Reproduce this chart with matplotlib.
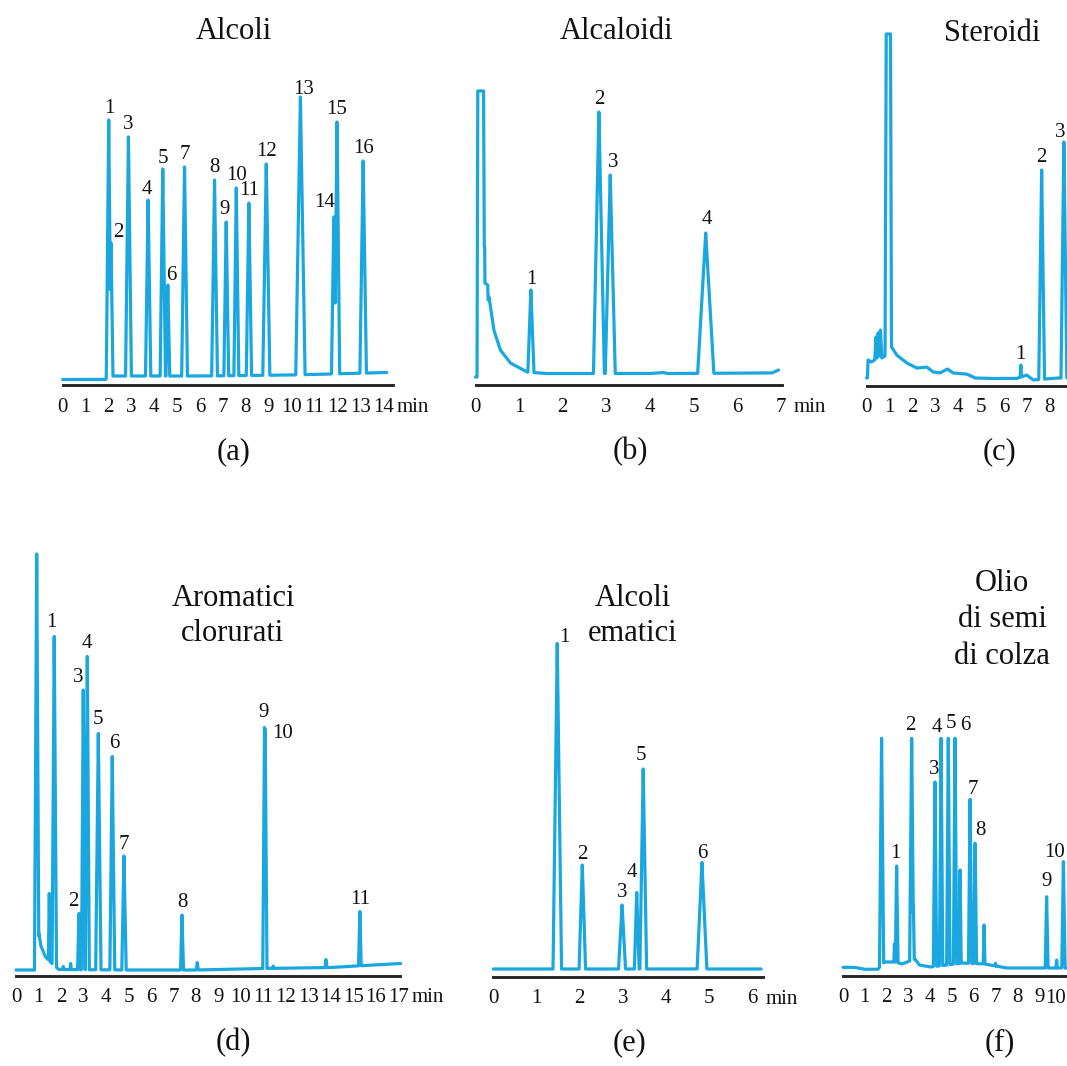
import numpy as np
import matplotlib
matplotlib.use("Agg")
import matplotlib.pyplot as plt

plt.rcParams['font.family'] = ['Liberation Serif', 'DejaVu Serif']

TRACE = '#1aa7e0'
AXIS = '#262626'
INK = '#111111'
W, H = 1067, 1066
DPI = 100

# ---------------- (a) Alcoli ----------------
a_bg_t = [0, 1.85, 2.2, 6.0, 10.0, 14.15]
a_bg_y = [5.5, 5.5, 9, 9, 10, 12.5]
a_peak_t = [2.01, 2.11, 2.87, 3.73, 4.37, 4.59, 5.32, 6.63, 7.14, 7.58, 8.13, 8.89, 10.38, 11.84, 11.98, 13.12]
a_peak_h = [265, 142, 248, 185, 216, 100, 218, 205, 163, 197, 182, 221, 288, 168, 263, 224]
a_peak_w = [0.11, 0.09, 0.13, 0.12, 0.12, 0.09, 0.13, 0.13, 0.11, 0.11, 0.12, 0.16, 0.21, 0.11, 0.12, 0.15]
a_labels = ['1', '2', '3', '4', '5', '6', '7', '8', '9', '10', '11', '12', '13', '14', '15', '16']

# ---------------- (b) Alcaloidi ----------------
b_bg_t = [0, 0.035, 0.05, 0.185, 0.2, 0.21, 0.215, 0.28, 0.29, 0.31, 0.42, 0.57, 0.8, 1.18, 1.6, 4.0, 4.3, 4.4, 6.8, 6.95]
b_bg_y = [8, 8, 294, 294, 138, 138, 102, 100, 85, 88, 55, 35, 22, 13, 11.5, 11.5, 12.5, 11.5, 12, 15]
b_peak_t = [1.27, 2.83, 3.09, 5.28]
b_peak_h = [95, 273, 210, 152]
b_peak_w = [0.08, 0.13, 0.12, 0.20]
b_labels = ['1', '2', '3', '4']

# ---------------- (c) Steroidi ----------------
c_bg_t = [0, 0.03, 0.06, 0.2, 0.35, 0.41, 0.45, 0.5, 0.55, 0.6, 0.66, 0.8, 0.85, 1.04, 1.08,
          1.31, 1.75, 2.18, 2.62, 2.9, 3.2, 3.52, 3.78, 4.36, 4.73, 5.4, 6.55, 6.98, 7.27, 8.3, 10.0]
c_bg_y = [8, 8, 26, 24, 26, 49, 28, 53, 30, 56, 28, 30, 352, 352, 39,
          31, 23, 18, 19, 14, 13, 17, 13, 12, 8, 7.5, 7.5, 11, 6, 8, 8]
c_peak_t = [6.73, 7.64, 8.61]
c_peak_h = [21, 216, 244]
c_peak_w = [0.05, 0.13, 0.13]
c_labels = ['1', '2', '3']

# ---------------- (d) Aromatici clorurati ----------------
d_bg_t = [0, 0.9, 1.02, 1.1, 1.3, 1.6, 1.9, 5.0, 8.0, 11.0, 14.0, 15.5, 17.1]
d_bg_y = [5.5, 5.5, 42, 30, 19, 12, 6, 5.5, 5.5, 7, 8, 10, 12]
d_peak_t = [0.92, 1.48, 1.70, 2.10, 2.43, 2.80, 2.99, 3.17, 3.66, 4.28, 4.80, 7.38, 8.06,
            11.05, 11.08, 11.44, 13.78, 15.29]
d_peak_h = [421.5, 82, 339, 9, 12, 62, 285.5, 319, 242, 219, 119.5, 60.5, 13,
            248, 246, 9.5, 16, 64]
d_peak_w = [0.10, 0.05, 0.10, 0.05, 0.05, 0.07, 0.08, 0.09, 0.12, 0.11, 0.10, 0.07, 0.07,
            0.08, 0.08, 0.10, 0.08, 0.07]
d_labels = ['', '', '1', '', '', '2', '3', '4', '5', '6', '7', '8', '',
            '9', '10', '', '', '11']

# ---------------- (e) Alcoli ematici ----------------
e_bg_t = [0, 6.2]
e_bg_y = [7.5, 7.5]
e_peak_t = [1.48, 2.06, 2.98, 3.32, 3.47, 4.83]
e_peak_h = [333, 111.5, 71.5, 84, 207.5, 114]
e_peak_w = [0.10, 0.08, 0.09, 0.06, 0.08, 0.12]
e_labels = ['1', '2', '3', '4', '5', '6']

# ---------------- (f) Olio di semi di colza ----------------
f_bg_t = [0, 0.5, 1.0, 1.6, 1.9, 2.4, 2.7, 3.3, 3.5, 4.0, 5.5, 6.5, 7.5, 9.0, 12.0]
f_bg_y = [8.7, 8.7, 6.7, 6.7, 14, 14, 12, 17, 11, 9, 13, 12, 8, 8, 8]
f_peak_t = [1.77, 2.36, 2.46, 3.15, 3.23, 4.22, 4.50, 4.83, 5.14, 5.37, 5.83, 6.06, 6.47,
            7.0, 9.34, 9.8, 10.11]
f_peak_h = [237.7, 32, 110, 237.7, 71, 194, 237.7, 237.7, 237.7, 106, 176.7, 132.7, 51,
            12.7, 79.3, 16, 114.3]
f_peak_w = [0.10, 0.05, 0.07, 0.10, 0.05, 0.08, 0.08, 0.08, 0.08, 0.06, 0.08, 0.07, 0.05,
            0.07, 0.07, 0.06, 0.08]
f_labels = ['', '', '1', '2', '', '3', '4', '5', '6', '', '7', '8', '',
            '', '9', '', '10']

fig = plt.figure(figsize=(W / DPI, H / DPI), dpi=DPI)
fig.patch.set_facecolor('white')


def trace(bg_t, bg_y, pk_t, pk_h, pk_w):
    t_end = bg_t[-1]
    grid = [np.linspace(0, t_end, 6000), np.asarray(bg_t, float)]
    for tp, w in zip(pk_t, pk_w):
        grid.append(np.array([tp - w, tp, tp + w]))
    t = np.unique(np.clip(np.concatenate(grid), 0, t_end))
    y = np.interp(t, bg_t, bg_y)
    for tp, h, w in zip(pk_t, pk_h, pk_w):
        tri = h * np.clip(1 - np.abs(t - tp) / w, 0, None)
        y = np.maximum(y, tri)
    return t, y


def panel(x0, axis_y, top_y, ppm, tmax, ticks, data, offsets, min_label=True,
          edge_tick=None):
    bg_t, bg_y, pk_t, pk_h, pk_w, labels = data
    width = ppm * tmax
    height = axis_y - top_y
    ax = fig.add_axes([x0 / W, 1 - axis_y / H, width / W, height / H])
    ax.set_xlim(0, tmax)
    ax.set_ylim(0, height)
    ax.patch.set_alpha(0)
    for side in ('top', 'left', 'right'):
        ax.spines[side].set_visible(False)
    ax.spines['bottom'].set_linewidth(2.1)
    ax.spines['bottom'].set_color(AXIS)
    ax.set_yticks([])
    ax.set_xticks(ticks, [str(v) for v in ticks])
    ax.tick_params(axis='x', length=0, pad=9, labelsize=15, colors=INK)

    t, y = trace(bg_t, bg_y, pk_t, pk_h, pk_w)
    ax.plot(t, y, color=TRACE, lw=2.3, solid_joinstyle='round',
            solid_capstyle='round', clip_on=False)

    for tp, h, lab in zip(pk_t, pk_h, labels):
        if not lab:
            continue
        dx, dy = offsets.get(lab, (0, 15))
        ax.annotate(lab, xy=(tp, h), xytext=(dx, dy - 7), textcoords='offset pixels',
                    ha='center', va='baseline', fontsize=15, color=INK,
                    annotation_clip=False)
    if min_label:
        ax.annotate('min', xy=(ticks[-1], 0), xytext=(13, -27), textcoords='offset pixels',
                    ha='left', va='baseline', fontsize=15, color=INK,
                    annotation_clip=False)
    if edge_tick is not None:
        # last tick at the right border, nudged so it stays inside the figure
        ax.annotate(str(edge_tick), xy=(edge_tick, 0), xytext=(-5, -27),
                    textcoords='offset pixels', ha='center', va='baseline',
                    fontsize=15, color=INK, annotation_clip=False)
    return ax


def ftext(x, y, s, size=22):
    fig.text(x / W, 1 - y / H, s, ha='center', va='baseline', fontsize=size, color=INK)


# top row
panel(62.7, 385, 20, 22.9, 14.42, list(range(15)),
      (a_bg_t, a_bg_y, a_peak_t, a_peak_h, a_peak_w, a_labels),
      {'1': (0.5, 14), '2': (7, 13), '4': (-1.5, 13), '5': (0.5, 13), '6': (4, 12),
       '9': (-2, 15), '13': (3, 10), '14': (-9.5, 17)})
panel(475.5, 385, 20, 43.6, 7.04, list(range(8)),
      (b_bg_t, b_bg_y, b_peak_t, b_peak_h, b_peak_w, b_labels),
      {'1': (0, 13), '3': (2.5, 15), '4': (1.5, 16)})
panel(866.7, 386, 20, 22.9, 10.0, list(range(9)),
      (c_bg_t, c_bg_y, c_peak_t, c_peak_h, c_peak_w, c_labels),
      {'1': (0, 13), '3': (-4, 12)}, min_label=False)

# bottom row
panel(16, 975.5, 540, 22.49, 17.07, list(range(18)),
      (d_bg_t, d_bg_y, d_peak_t, d_peak_h, d_peak_w, d_labels),
      {'1': (-2.5, 16.5), '2': (-6, 15), '3': (-5, 15), '5': (0, 17), '6': (2, 15),
       '7': (0, 14), '9': (-1, 17.5), '10': (17, -2)})
panel(493.3, 976.5, 540, 43.2, 6.25, list(range(7)),
      (e_bg_t, e_bg_y, e_peak_t, e_peak_h, e_peak_w, e_labels),
      {'1': (7, 8.5), '2': (0, 13), '4': (-4.5, 22.5), '5': (-2.5, 16), '6': (0, 11.5)})
panel(843, 976, 540, 21.8, 11.0, list(range(10)),
      (f_bg_t, f_bg_y, f_peak_t, f_peak_h, f_peak_w, f_labels),
      {'1': (-1.5, 15), '2': (-1, 15), '3': (-1, 15), '4': (-4, 13), '5': (2.5, 17),
       '6': (10, 15), '7': (2.5, 12), '8': (5, 15), '9': (0, 18), '10': (-9, 12)},
      min_label=False, edge_tick=10)

# titles
ftext(234, 39, 'Alcoli')
ftext(617, 39, 'Alcaloidi')
ftext(992, 41, 'Steroidi')
ftext(233, 606, 'Aromatici')
ftext(233, 641, 'clorurati')
ftext(633, 606, 'Alcoli')
ftext(633, 641, 'ematici')
ftext(1002, 591, 'Olio')
ftext(1002, 627, 'di semi')
ftext(1002, 664, 'di colza')

# panel letters
ftext(234, 459, '(a)')
ftext(630, 459, '(b)')
ftext(1000, 459, '(c)')
ftext(233, 1050, '(d)')
ftext(629, 1050, '(e)')
ftext(1000, 1050, '(f)')

fig.savefig('out.png', dpi=DPI)
